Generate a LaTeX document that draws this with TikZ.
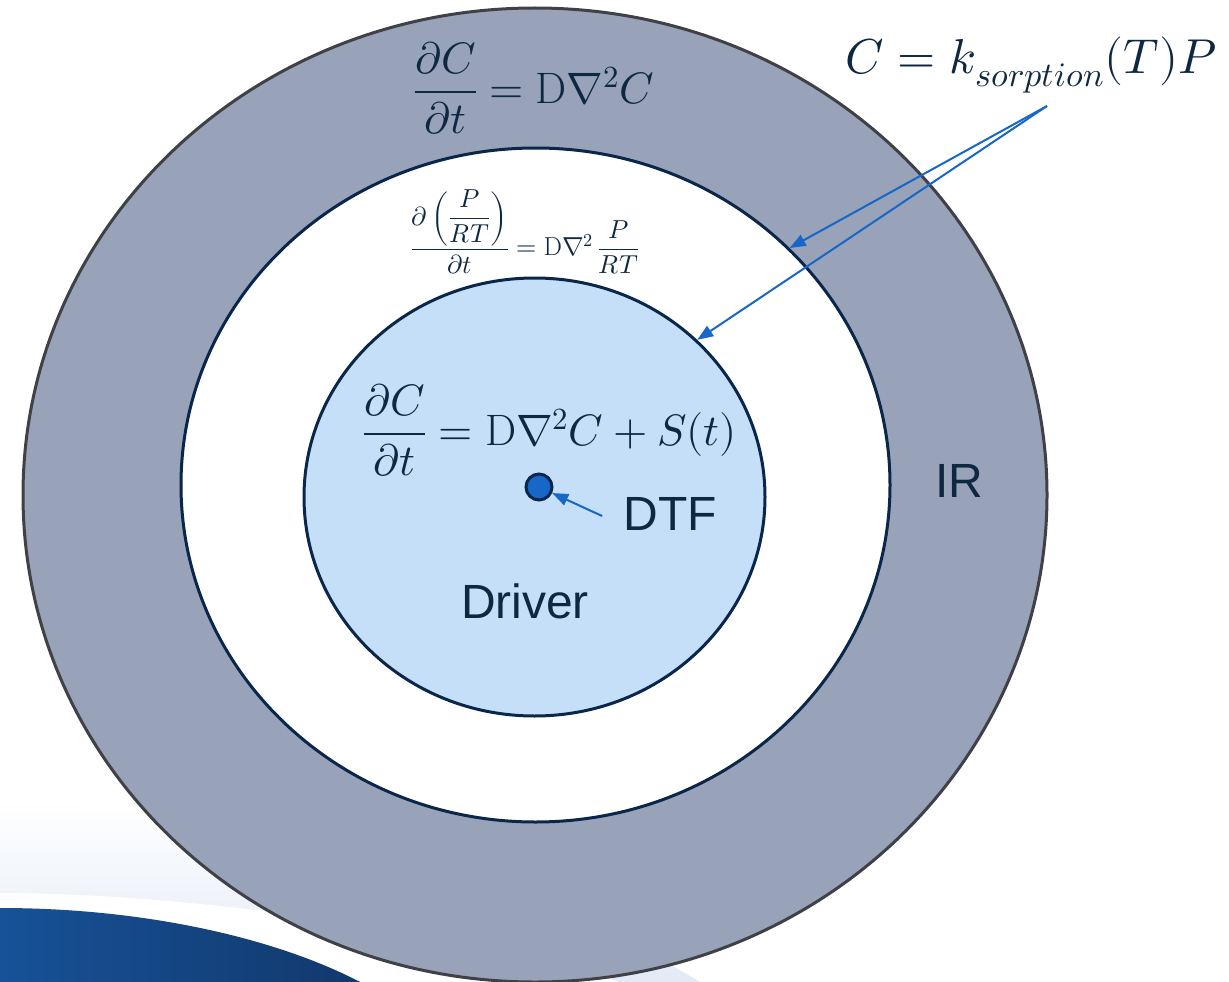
\documentclass[tikz,border=0pt]{standalone}
\usepackage{fontspec}
\usepackage{unicode-math}
\setmathfont{Latin Modern Math}
\newfontfamily\arialf{Liberation Sans}
\usetikzlibrary{arrows.meta,shapes.geometric}
\definecolor{ringgray}{RGB}{152,162,184}
\definecolor{outerline}{RGB}{63,65,71}
\definecolor{navy}{RGB}{10,38,74}
\definecolor{innerfill}{RGB}{197,223,248}
\definecolor{arrowblue}{RGB}{22,103,199}
\definecolor{txt}{RGB}{14,40,65}
\definecolor{swooshA}{RGB}{22,82,152}
\definecolor{swooshB}{RGB}{18,56,108}
\definecolor{lightband}{RGB}{226,234,245}
\tikzset{
  ring/.style={ellipse, inner sep=0pt, line width=3pt},
  lbl/.style={font=\arialf\fontsize{48}{52}\selectfont, text=txt, inner sep=0pt},
  eqbig/.style={font=\fontsize{44}{48}\selectfont, text=txt, inner sep=0pt},
  eqk/.style={font=\fontsize{49}{52}\selectfont, text=txt, inner sep=0pt},
  eqsmall/.style={font=\fontsize{26}{30}\selectfont, text=txt, inner sep=0pt},
  arr/.style={draw=arrowblue, line width=2pt, -{Triangle[length=16pt,width=12pt]}, arrowblue}
}
\begin{document}
\begin{tikzpicture}[x=1pt,y=-1pt]
\useasboundingbox (0,0) rectangle (1229,982);
\clip (0,0) rectangle (1229,982);
% background swoosh
\shade[top color=white, bottom color=lightband] (0,800) .. controls (350,820) and (600,920) .. (700,982) -- (0,982) -- cycle;
\fill[white] (0,893) .. controls (200,893) and (470,935) .. (620,982) -- (0,982) -- cycle;
\shade[left color=swooshA, right color=swooshB] (0,908) .. controls (150,908) and (280,940) .. (360,982) -- (0,982) -- cycle;
% rings
\node[ring, draw=outerline, fill=ringgray, minimum width=1024pt, minimum height=974pt] (outer) at (535,495) {};
\node[ring, draw=navy, fill=white, minimum width=709pt, minimum height=674pt] (middle) at (535.5,485) {};
\node[ring, draw=navy, fill=innerfill, minimum width=461pt, minimum height=438pt] (inner) at (534.5,497) {};
% equations
\node[eqbig] (eqouter) at (534,88) {$\displaystyle\frac{\partial C}{\partial t}=\mathrm{D}\nabla^2 C$};
\node[eqsmall] (eqmid) at (525,232) {$\displaystyle\frac{\partial\left(\dfrac{P}{RT}\right)}{\partial t}=\mathrm{D}\nabla^2\,\frac{P}{RT}$};
\node[eqbig] (eqinner) at (550,430) {$\displaystyle\frac{\partial C}{\partial t}=\mathrm{D}\nabla^2 C+S(t)$};
\node[eqk] (eqk) at (1031,65) {$C=k_{sorption}(T)P$};
% labels
\node[lbl] (ir) at (959,481) {IR};
\node[lbl] (dtf) at (670,514) {DTF};
\node[lbl] (driver) at (525,601) {Driver};
% DTF dot
\node[circle, draw=navy, fill=arrowblue, line width=3pt, minimum size=26pt, inner sep=0pt] (dot) at (539,487) {};
% arrows
\coordinate (src) at (1047,106);
\draw[arr] (src) -- (middle.43);
\draw[arr] (src) -- (inner.44);
\draw[arr] ([xshift=-21pt,yshift=-2pt]dtf.west) -- (dot);
\end{tikzpicture}
\end{document}
